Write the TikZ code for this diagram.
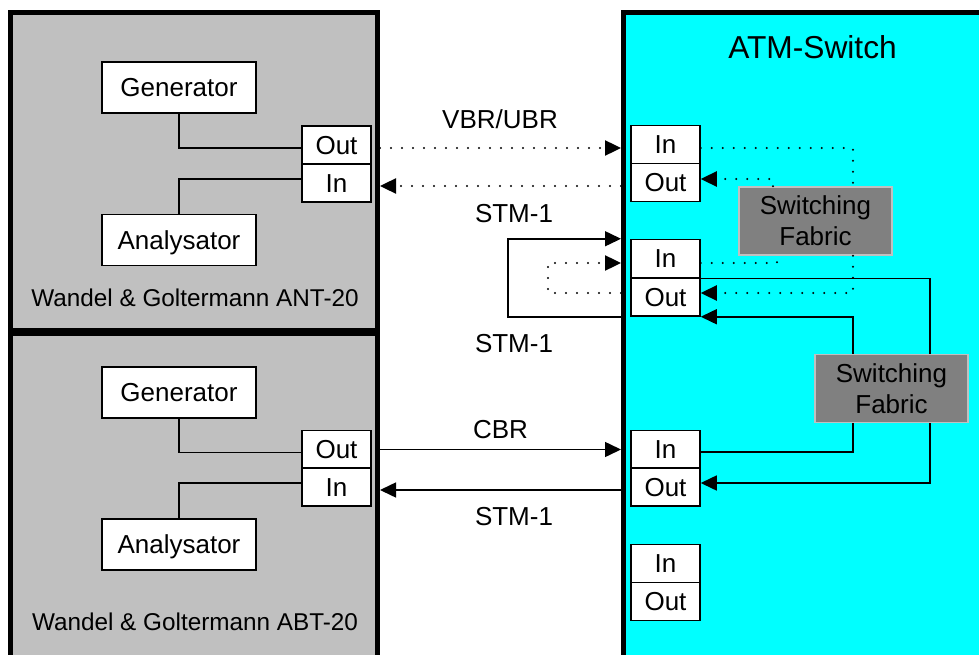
\documentclass[tikz,border=0pt]{standalone}
\usepackage{fontspec}
\setmainfont{Liberation Sans}
\usetikzlibrary{arrows.meta}
\definecolor{panelgray}{RGB}{192,192,192}
\definecolor{fabricgray}{RGB}{128,128,128}
\definecolor{switchcyan}{RGB}{0,255,255}

\begin{document}
\begin{tikzpicture}[x=1pt,y=-1pt,
  txt/.style={font=\fontsize{26}{31}\selectfont, text height=18.7pt, text depth=0pt, inner sep=0pt},
  caption/.style={txt, font=\fontsize{24.3}{29}\selectfont, text height=17.5pt},
  title/.style={txt, font=\fontsize{31.7}{38}\selectfont, text height=22.8pt},
  panel/.style={draw=black, line width=5pt, fill=panelgray, inner sep=0pt},
  switchpanel/.style={panel, fill=switchcyan},
  unit/.style={txt, draw=black, line width=1.5pt, fill=white, minimum width=154pt, minimum height=51pt},
  port/.style={txt, draw=black, line width=1.5pt, fill=white, minimum width=69pt, minimum height=38pt},
  fabric/.style={draw=panelgray, line width=1.5pt, fill=fabricgray, font=\fontsize{26}{31}\selectfont,
    align=center, inner sep=0pt, minimum width=153pt, minimum height=68pt},
  wire/.style={line width=1.5pt},
  tip/.style={-{Triangle[length=16pt,width=15pt]}},
  link/.style={wire, tip},
  dots/.style={line width=2.4pt, line cap=round, dash pattern=on 0pt off 11pt},
  dotlink/.style={dots, tip},
]
\useasboundingbox (0,0) rectangle (979,655);
\clip (0,0) rectangle (979,655);

% test instruments and the switch
\node[panel, minimum width=367pt, minimum height=317.5pt] (ant) at (194,171.25) {};
\node[panel, minimum width=367pt, minimum height=367pt] (abt) at (194,516.5) {};
\node[switchpanel, minimum width=400pt, minimum height=700pt] (atm) at (823.5,362.5) {};

% ANT-20
\node[unit] (gen1) at (179,87.5) {Generator};
\node[unit] (ana1) at (179,240) {Analysator};
\node[port] (lo1) at (336.5,145) {Out};
\node[port] (li1) at (336.5,183) {In};
\node[caption] (cap1) at (195,298) {Wandel \& Goltermann ANT-20};

% ABT-20
\node[unit] (gen2) at (179,392.5) {Generator};
\node[unit] (ana2) at (179,544.5) {Analysator};
\node[port] (lo2) at (336.5,449.5) {Out};
\node[port] (li2) at (336.5,487) {In};
\node[caption] (cap2) at (195,622) {Wandel \& Goltermann ABT-20};

% ATM switch ports and fabrics
\node[title] (ttl) at (812.5,47) {ATM-Switch};
\node[port] (ri1) at (665.5,144.5) {In};
\node[port] (ro1) at (665.5,182.5) {Out};
\node[port] (ri2) at (665.5,258.5) {In};
\node[port] (ro2) at (665.5,297) {Out};
\node[port] (ri3) at (665.5,449.5) {In};
\node[port] (ro3) at (665.5,487) {Out};
\node[port] (ri4) at (665.5,563.5) {In};
\node[port] (ro4) at (665.5,601.5) {Out};
\node[fabric] (sf1) at (815.5,221) {Switching\\Fabric};
\node[fabric] (sf2) at (891.5,388.5) {Switching\\Fabric};

% instrument internals
\draw[wire] (gen1.south) |- ([yshift=-3pt]lo1.west);
\draw[wire] ([yshift=4pt]li1.west) -| (ana1.north);
\draw[wire] (gen2.south) |- ([yshift=-3pt]lo2.west);
\draw[wire] ([yshift=4pt]li2.west) -| (ana2.north);

% line labels
\node[txt] (lvbr) at (500,119) {VBR/UBR};
\node[txt] (lstm1) at (514,213) {STM-1};
\node[txt] (lstm2) at (514,343.5) {STM-1};
\node[txt] (lcbr) at (500.5,429) {CBR};
\node[txt] (lstm3) at (514,516.5) {STM-1};

% links between instruments and switch
\draw[dotlink] ([yshift=-3pt]ant.east |- lo1.center) -- ([yshift=-3pt]atm.west |- lo1.center);
\draw[dotlink] ([yshift=-3pt]atm.west |- li1.center) -- ([yshift=-3pt]ant.east |- li1.center);
\coordinate (loopL) at (508,278);
\coordinate (loopS) at (548,278);
\draw[link] (atm.west |- ro2.south) -| (loopL) |- (atm.west |- ri2.north);
\draw[dotlink] ([yshift=4pt]atm.west |- ro2.center) -| (loopS) |- ([yshift=-4.5pt]atm.west |- ri2.center);
\draw[link] (abt.east |- lo2.center) -- (atm.west |- lo2.center);
\draw[link] ([yshift=-3pt]atm.west |- li2.center) -- ([yshift=-3pt]abt.east |- li2.center);

% paths through the switching fabrics
\draw[dots] ([yshift=-3.5pt]ri1.east) -| ([xshift=37.5pt]sf1.north);
\draw[dotlink] ([xshift=-42.5pt]sf1.north) |- ([yshift=3.5pt]ro1.east);
\draw[dots] ([yshift=-4.5pt]ri2.east) -| ([xshift=-38.5pt]sf1.south);
\draw[dotlink] ([xshift=37.5pt]sf1.south) |- ([yshift=4pt]ro2.east);
\draw[wire] (ri2.south east) -| ([xshift=38.5pt]sf2.north);
\draw[link] ([xshift=-38.5pt]sf2.north) |- (ro2.south east);
\draw[wire] ([xshift=-38.5pt]sf2.south) |- ([yshift=-2.5pt]ri3.east);
\draw[link] ([xshift=38.5pt]sf2.south) |- ([yshift=4pt]ro3.east);
\end{tikzpicture}
\end{document}
